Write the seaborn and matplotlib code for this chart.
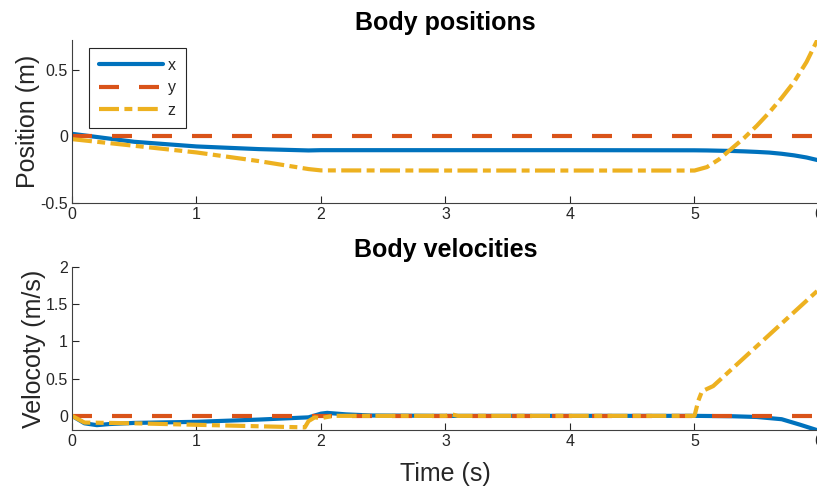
import numpy as np
import pandas as pd
import matplotlib
matplotlib.use("Agg")
import matplotlib.pyplot as plt
import seaborn as sns

# ---- data ----
pos_t = [0, 0.25, 0.5, 1.0, 1.5, 1.9, 2.0, 3.0, 4.0, 5.0, 5.1, 5.2, 5.3, 5.4, 5.5, 5.6, 5.7, 5.8, 5.9, 6.0]
pos_x = [0.02, -0.01, -0.04, -0.075, -0.095, -0.105, -0.103, -0.103, -0.103, -0.104, -0.105, -0.107, -0.109, -0.112, -0.116, -0.121, -0.13, -0.142, -0.158, -0.18]
pos_y = [0.0] * len(pos_t)
pos_z = [-0.02, -0.045, -0.07, -0.12, -0.185, -0.245, -0.255, -0.256, -0.256, -0.256, -0.23, -0.17, -0.09, -0.01, 0.08, 0.18, 0.29, 0.41, 0.56, 0.75]

vx_t = [0, 0.1, 0.2, 0.3, 0.5, 1.0, 1.5, 1.9, 2.0, 2.05, 2.2, 2.4, 3.0, 4.0, 5.0, 5.3, 5.5, 5.7, 5.85, 6.0]
vx = [0, -0.10, -0.125, -0.11, -0.095, -0.08, -0.05, -0.02, 0.03, 0.04, 0.02, 0.005, 0, 0, 0, -0.005, -0.015, -0.045, -0.12, -0.2]
vy_t = [0, 6.0]
vy = [0, 0]
vz_t = [0, 0.1, 0.3, 0.5, 1.0, 1.5, 1.87, 1.9, 1.95, 2.0, 2.1, 3.0, 3.05, 3.1, 5.0, 5.03, 5.06, 5.15, 6.0]
vz = [0, -0.09, -0.095, -0.10, -0.12, -0.14, -0.155, -0.07, -0.02, -0.03, 0, 0, 0.02, 0, 0, 0.2, 0.33, 0.40, 1.7]

series = ["x", "y", "z"]
colors = ["#0072BD", "#D95319", "#EDB120"]
styles = ["-", (0, (4.8, 4.8)), (0, (4.8, 1.3, 1.9, 1.3))]

sns.set_style("ticks")
plt.rcParams["font.family"] = ["Liberation Sans", "DejaVu Sans"]
plt.rcParams["axes.unicode_minus"] = False

fig = plt.figure(figsize=(8.17, 4.88), dpi=100)
W, H = 817, 488
ax1 = fig.add_axes([72 / W, (H - 203) / H, (819 - 72) / W, (203 - 40) / H])
ax2 = fig.add_axes([72 / W, (H - 430) / H, (819 - 72) / W, (430 - 267) / H])

pos_df = pd.DataFrame({"t": pos_t, "x": pos_x, "y": pos_y, "z": pos_z})
for s, c, ls in zip(series, colors, styles):
    sns.lineplot(data=pos_df, x="t", y=s, ax=ax1, color=c, linestyle=ls, lw=3,
                 label=s, sort=False)

vel = [(vx_t, vx), (vy_t, vy), (vz_t, vz)]
for (tt, vv), c, ls in zip(vel, colors, styles):
    sns.lineplot(x=tt, y=vv, ax=ax2, color=c, linestyle=ls, lw=3, sort=False)

dark = "#262626"
for ax in (ax1, ax2):
    ax.set_xlim(0, 6)
    ax.set_xticks([0, 1, 2, 3, 4, 5, 6])
    ax.set_xticklabels(["0", "1", "2", "3", "4", "5", "6"])
    for sp in ("top", "right"):
        ax.spines[sp].set_visible(False)
    for sp in ("left", "bottom"):
        ax.spines[sp].set_color("#404040")
        ax.spines[sp].set_linewidth(0.8)
    ax.tick_params(direction="in", length=5, width=0.8, colors=dark,
                   labelsize=11.5, pad=3)
    ax.set_xlabel("")

ax1.set_ylim(-0.5, 0.725)
ax1.set_yticks([-0.5, 0, 0.5])
ax1.set_yticklabels(["-0.5", "0", "0.5"])
ax1.set_ylabel("Position (m)", fontsize=18, color=dark, labelpad=0)
ax1.set_title("Body positions", fontsize=18, fontweight="bold", color="black", pad=7.5)

ax2.set_ylim(-0.19, 2.0)
ax2.set_yticks([0, 0.5, 1, 1.5, 2])
ax2.set_yticklabels(["0", "0.5", "1", "1.5", "2"])
ax2.set_ylabel("Velocoty (m/s)", fontsize=18, color=dark, labelpad=0)
ax2.set_title("Body velocities", fontsize=18, fontweight="bold", color="black", pad=7.5)
ax2.set_xlabel("Time (s)", fontsize=18, color=dark, labelpad=9.5)

leg = ax1.legend(loc="upper left", bbox_to_anchor=(0.0228, 0.951), fontsize=11.5,
                 handlelength=4.0, handletextpad=0.3, labelspacing=0.47,
                 borderpad=0.62, borderaxespad=0, fancybox=False, framealpha=1,
                 edgecolor=dark)
leg.get_frame().set_linewidth(0.8)

fig.savefig("out.png", dpi=100)
